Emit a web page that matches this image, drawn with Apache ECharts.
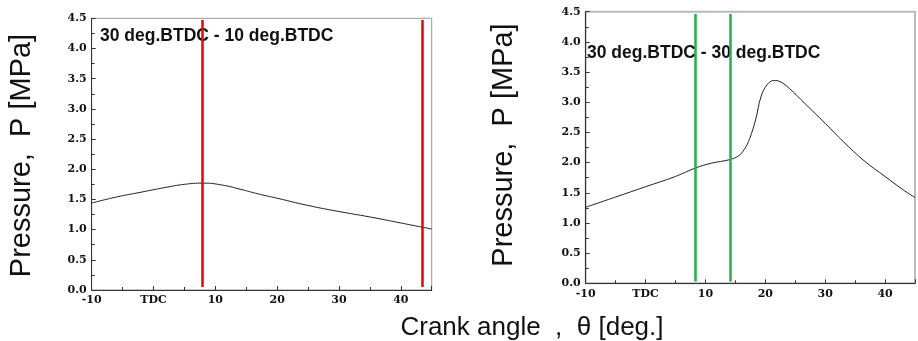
<!DOCTYPE html>
<html>
<head>
<meta charset="utf-8">
<script src="https://cdn.jsdelivr.net/npm/echarts@6/dist/echarts.min.js"></script>
<style>html,body{margin:0;padding:0;background:#fff}#c{width:918px;height:341px}</style>
</head>
<body>
<div id="c"></div>
<script>
// Data
const xTicks = [-10, 0, 10, 20, 30, 40];
const xTickLabels = ['-10', 'TDC', '10', '20', '30', '40'];
const leftCurve = [[-10,1.44],[-6,1.54],[-2,1.62],[2,1.70],[5,1.75],[8,1.77],[11,1.74],[14,1.67],[17,1.59],[20,1.52],[25,1.40],[30,1.30],[35,1.21],[40,1.11],[45,1.01]];
const rightCurve = [[-10,1.26],[-5,1.43],[0,1.60],[5,1.77],[8.3,1.91],[11,1.99],[14.1,2.05],[15.5,2.11],[16.5,2.22],[17.4,2.40],[18.4,2.72],[19.3,3.10],[20.3,3.29],[21.4,3.36],[22.5,3.34],[24,3.23],[26.6,2.98],[30,2.65],[33,2.35],[36.5,2.03],[40,1.77],[43,1.55],[45,1.42]];
const leftMarks = [7.85, 43.5];
const rightMarks = [8.3, 14.1];
const leftLabel = '30 deg.BTDC - 10 deg.BTDC';
const rightLabel = '30 deg.BTDC - 30 deg.BTDC';
const yLabel = 'Pressure,  P [MPa]';
const xLabel = 'Crank angle  ,  θ [deg.]';

const chart = echarts.init(document.getElementById('c'), null, {renderer: 'canvas'});
const tickFont = {fontFamily: 'DejaVu Serif', fontWeight: 'bold', fontSize: 11, color: '#111'};
function xAxisFor(gi) {
  return {
    type: 'value', gridIndex: gi, min: -10, max: 45, interval: 10,
    axisLine: {show: true, onZero: false, lineStyle: {color: '#333', width: 1}},
    axisTick: {show: true, inside: true, length: 4, lineStyle: {color: '#333'}},
    minorTick: {show: true, splitNumber: 2, length: 3, lineStyle: {color: '#333'}},
    splitLine: {show: false},
    axisLabel: Object.assign({margin: 5, formatter: v => { const i = xTicks.indexOf(v); return i >= 0 ? xTickLabels[i] : ''; }}, tickFont)
  };
}
function yAxisFor(gi) {
  return {
    type: 'value', gridIndex: gi, min: 0, max: 4.5, interval: 0.5,
    axisLine: {show: true, onZero: false, lineStyle: {color: '#333', width: 1}},
    axisTick: {show: true, inside: true, length: 4, lineStyle: {color: '#333'}},
    minorTick: {show: true, splitNumber: 2, length: 3, lineStyle: {color: '#333'}},
    splitLine: {show: false},
    axisLabel: Object.assign({margin: 5, formatter: v => v.toFixed(1)}, tickFont)
  };
}
function marks(xs, color, y0, y1) {
  return {
    silent: true, symbol: 'none', label: {show: false},
    lineStyle: {color: color, width: 2.5, type: 'solid'},
    data: xs.map(x => [{coord: [x, y0]}, {coord: [x, y1]}])
  };
}
chart.setOption({
  animation: false,
  grid: [
    {left: 91.7, top: 18.3, right: 486.3, bottom: 51, show: true, borderColor: '#999', borderWidth: 1},
    {left: 585.7, top: 11.7, right: -4.3, bottom: 57.7, show: true, borderColor: '#bbb', borderWidth: 2}
  ],
  xAxis: [xAxisFor(0), xAxisFor(1)],
  yAxis: [yAxisFor(0), yAxisFor(1)],
  series: [
    {type: 'line', xAxisIndex: 0, yAxisIndex: 0, data: leftCurve, smooth: 0.5, showSymbol: false,
     lineStyle: {color: '#222', width: 1}, markLine: marks(leftMarks, '#f00000', 0.05, 4.47)},
    {type: 'line', xAxisIndex: 1, yAxisIndex: 1, data: rightCurve, smooth: 0.4, showSymbol: false,
     lineStyle: {color: '#222', width: 1}, markLine: marks(rightMarks, '#1db34a', 0.03, 4.46)}
  ],
  graphic: [
    {type: 'text', left: 100, top: 27, style: {text: leftLabel, font: 'bold 17.5px "Liberation Sans"', fill: '#111'}},
    {type: 'text', left: 587, top: 44, style: {text: rightLabel, font: 'bold 17.5px "Liberation Sans"', fill: '#111'}},
    {type: 'text', x: 22, y: 155.5, rotation: Math.PI / 2, style: {text: yLabel, font: '29px "Liberation Sans"', fill: '#111', align: 'center', verticalAlign: 'middle'}},
    {type: 'text', x: 504, y: 145, rotation: Math.PI / 2, style: {text: yLabel, font: '29px "Liberation Sans"', fill: '#111', align: 'center', verticalAlign: 'middle'}},
    {type: 'text', x: 532, y: 328, style: {text: xLabel, font: '26px "Liberation Sans"', fill: '#111', align: 'center', verticalAlign: 'middle'}}
  ]
});
</script>
</body>
</html>
